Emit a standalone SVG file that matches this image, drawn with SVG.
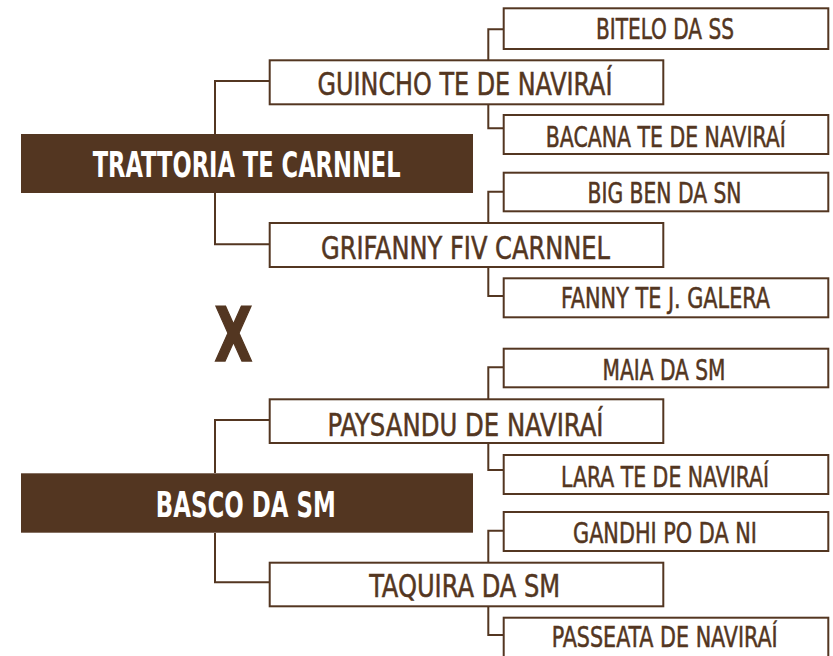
<svg xmlns="http://www.w3.org/2000/svg" width="833" height="656" viewBox="0 0 833 656">
<style>
.box{fill:#fff;stroke:#533621;stroke-width:2}
.root{fill:#533621}
.t{font-family:"Liberation Sans Narrow","DejaVu Sans Condensed","Liberation Sans",sans-serif;fill:#533621;stroke:#533621;stroke-width:0.5;text-anchor:middle}
.mid{font-size:31.5px}
.leaf{font-size:29px}
.rt{font-family:"Liberation Sans Narrow","DejaVu Sans Condensed","Liberation Sans",sans-serif;font-weight:bold;font-size:36px;fill:#fff;text-anchor:middle}
.conn{fill:none;stroke:#533621;stroke-width:2}
</style>
<rect width="833" height="656" fill="#fff"/>
<g id="connectors">
<path class="conn" d="M269,81 H215 V134"/>
<path class="conn" d="M215,193 V244.3 H269"/>
<path class="conn" d="M488.3,60 V29.3 H503"/>
<path class="conn" d="M488.3,104 V128.3 H503"/>
<path class="conn" d="M488.3,223 V191.7 H503"/>
<path class="conn" d="M488.3,267 V296 H503"/>
<path class="conn" d="M269,420 H215 V473"/>
<path class="conn" d="M215,533 V582.3 H269"/>
<path class="conn" d="M488.3,399 V367.3 H503"/>
<path class="conn" d="M488.3,443 V470 H503"/>
<path class="conn" d="M488.3,563 V530.7 H503"/>
<path class="conn" d="M488.3,606 V635 H503"/>
</g>
<g id="trattoria">
<rect class="root" x="21" y="134" width="452" height="59"/>
<text class="rt" x="246.7" y="176.7" textLength="308" lengthAdjust="spacingAndGlyphs">TRATTORIA TE CARNNEL</text>
</g>
<g id="guincho">
<rect class="box" x="269.7" y="60.3" width="393.6" height="44"/>
<text class="t mid" x="465" y="95" textLength="295" lengthAdjust="spacingAndGlyphs">GUINCHO TE DE NAVIRAÍ</text>
</g>
<g id="grifanny">
<rect class="box" x="269.7" y="223" width="393.6" height="44"/>
<text class="t mid" x="465.5" y="258.7" textLength="289" lengthAdjust="spacingAndGlyphs">GRIFANNY FIV CARNNEL</text>
</g>
<g id="bitelo">
<rect class="box" x="503.7" y="8.3" width="324.6" height="40.7"/>
<text class="t leaf" x="665" y="39.3" textLength="138" lengthAdjust="spacingAndGlyphs">BITELO DA SS</text>
</g>
<g id="bacana">
<rect class="box" x="503.7" y="115" width="324.6" height="39"/>
<text class="t leaf" x="665.8" y="146.7" textLength="240" lengthAdjust="spacingAndGlyphs">BACANA TE DE NAVIRAÍ</text>
</g>
<g id="bigben">
<rect class="box" x="503.7" y="172.7" width="324.6" height="38.6"/>
<text class="t leaf" x="664.5" y="203.3" textLength="154" lengthAdjust="spacingAndGlyphs">BIG BEN DA SN</text>
</g>
<g id="fanny">
<rect class="box" x="503.7" y="278.3" width="324.6" height="39"/>
<text class="t leaf" x="665.5" y="308.3" textLength="209" lengthAdjust="spacingAndGlyphs">FANNY TE J. GALERA</text>
</g>
<g id="x-sign">
<text x="233.5" y="361" font-family="'Liberation Sans Narrow','DejaVu Sans Condensed','Liberation Sans',sans-serif" font-weight="bold" font-size="74" fill="#533621" stroke="#533621" stroke-width="1.5" text-anchor="middle" textLength="38" lengthAdjust="spacingAndGlyphs">X</text>
</g>
<g id="basco">
<rect class="root" x="21" y="473.3" width="452" height="59.4"/>
<text class="rt" x="245.8" y="516.7" textLength="180" lengthAdjust="spacingAndGlyphs">BASCO DA SM</text>
</g>
<g id="paysandu">
<rect class="box" x="269.7" y="399.3" width="393.6" height="43.7"/>
<text class="t mid" x="465.5" y="435.5" textLength="276" lengthAdjust="spacingAndGlyphs">PAYSANDU DE NAVIRAÍ</text>
</g>
<g id="taquira">
<rect class="box" x="269.7" y="562.7" width="393.6" height="43.6"/>
<text class="t mid" x="464.7" y="597" textLength="191" lengthAdjust="spacingAndGlyphs">TAQUIRA DA SM</text>
</g>
<g id="maia">
<rect class="box" x="503.7" y="348.7" width="324.6" height="38.6"/>
<text class="t leaf" x="664" y="379.5" textLength="123" lengthAdjust="spacingAndGlyphs">MAIA DA SM</text>
</g>
<g id="lara">
<rect class="box" x="503.7" y="455" width="324.6" height="39"/>
<text class="t leaf" x="665" y="486.7" textLength="208" lengthAdjust="spacingAndGlyphs">LARA TE DE NAVIRAÍ</text>
</g>
<g id="gandhi">
<rect class="box" x="503.7" y="512" width="324.6" height="39"/>
<text class="t leaf" x="665" y="542.7" textLength="184" lengthAdjust="spacingAndGlyphs">GANDHI PO DA NI</text>
</g>
<g id="passeata">
<rect class="box" x="503.7" y="617.7" width="324.6" height="40"/>
<text class="t leaf" x="664.7" y="646.7" textLength="226" lengthAdjust="spacingAndGlyphs">PASSEATA DE NAVIRAÍ</text>
</g>
</svg>
